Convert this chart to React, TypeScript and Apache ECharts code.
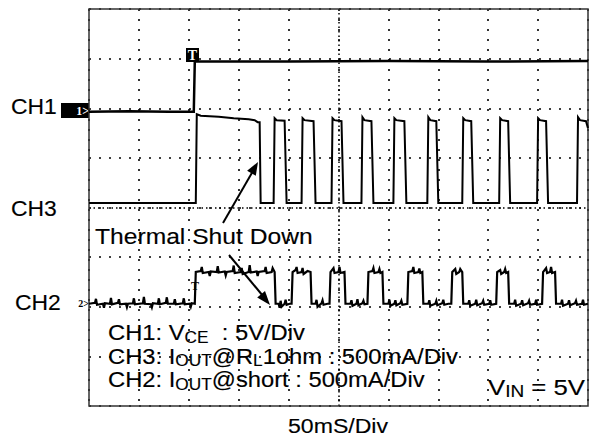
import React, { useEffect, useRef } from "react";
import * as echarts from "echarts";

// Horizontal: time in ms (50 mS/Div, 10 divisions). Vertical: screen divisions (0 = bottom, 8 = top).
const timeRange = [0, 500];
const timeStep = 50;
const divRange = [0, 8];

// CH1: VCE (5V/Div)
const ch1Vce: [number, number][] = [
  [0, 5.93], [40, 5.94], [80, 5.93], [105, 5.93], [106, 6.94], [200, 6.94], [300, 6.95], [400, 6.94], [500, 6.95],
];

// CH3: IOUT @ RL 1ohm (500mA/Div)
const ch3Iout: [number, number][] = [
  [0, 4.09], [107, 4.09], [108, 5.88], [112, 5.85], [130, 5.83], [145, 5.8], [160, 5.78], [166, 5.76], [169, 5.72], [171, 5.72], [172, 4.09],
  [185, 4.09], [186, 5.8], [188, 5.76], [196, 5.75], [198, 4.09],
  [213, 4.09], [214, 5.8], [216, 5.76], [225, 5.74], [227, 4.09],
  [243, 4.09], [244, 5.8], [246, 5.76], [253, 5.74], [255, 4.09],
  [273, 4.09], [274, 5.82], [276, 5.76], [283, 5.74], [285, 4.09],
  [305, 4.09], [306, 5.8], [308, 5.76], [316, 5.74], [318, 4.09],
  [339, 4.09], [340, 5.82], [342, 5.76], [348, 5.74], [350, 4.09],
  [374, 4.09], [375, 5.8], [377, 5.76], [383, 5.74], [385, 4.09],
  [411, 4.09], [412, 5.8], [414, 5.76], [420, 5.74], [422, 4.09],
  [449, 4.09], [450, 5.8], [452, 5.76], [458, 5.74], [460, 4.09],
  [489, 4.09], [490, 5.82], [492, 5.76], [498, 5.74], [500, 5.6],
];

// CH2: IOUT @ short (500mA/Div), with the visible noise spikes
const ch2Iout: [number, number][] = [
  [0, 2.06], [6, 2.08], [7, 2.16], [8, 2.04], [14, 2.06], [15, 1.98], [16, 2.07], [21, 2.06], [22, 2.18], [23, 2.05],
  [29, 2.08], [30, 2.15], [31, 2.05], [37, 2.06], [38, 1.99], [39, 2.06], [44, 2.07], [45, 2.17], [46, 2.05],
  [54, 2.07], [55, 2.2], [56, 2.06], [62, 2.05], [63, 1.99], [64, 2.07], [69, 2.06], [70, 2.17], [71, 2.05],
  [77, 2.08], [78, 2.19], [79, 2.06], [85, 2.06], [86, 2.15], [87, 2.05], [94, 2.07], [95, 2.17], [96, 2.05],
  [101, 2.06], [102, 2.0], [103, 2.07], [106, 2.06],
  [107, 2.7], [112, 2.72], [113, 2.8], [114, 2.68], [120, 2.7], [121, 2.62], [122, 2.71], [128, 2.7], [129, 2.82], [130, 2.69],
  [136, 2.71], [137, 2.63], [138, 2.7], [144, 2.72], [145, 2.83], [146, 2.68], [152, 2.7], [153, 2.78], [154, 2.66],
  [160, 2.7], [161, 2.84], [162, 2.69], [168, 2.71], [169, 2.62], [170, 2.7], [176, 2.72], [177, 2.8], [178, 2.68],
  [183, 2.7], [184, 2.78], [186, 2.7], [187, 2.06],
  [190, 2.06], [191, 1.98], [192, 2.12], [193, 2.0], [196, 2.06], [197, 2.14], [198, 2.04], [201, 2.06], [203, 2.06],
  [204, 2.7], [207, 2.74], [208, 2.8], [209, 2.68], [213, 2.7], [214, 2.78], [215, 2.66], [219, 2.72], [222, 2.7], [223, 2.06],
  [227, 2.06], [228, 2.14], [229, 2.0], [233, 2.07], [234, 2.13], [235, 2.04], [239, 2.06], [241, 2.06],
  [242, 2.7], [245, 2.78], [246, 2.68], [250, 2.7], [251, 2.8], [252, 2.68], [256, 2.7], [257, 2.06],
  [262, 2.06], [263, 2.13], [264, 2.02], [268, 2.06], [269, 2.15], [270, 2.03], [274, 2.07], [275, 2.12], [276, 2.05], [279, 2.06],
  [280, 2.7], [284, 2.72], [285, 2.78], [286, 2.68], [290, 2.7], [291, 2.76], [292, 2.68], [294, 2.7], [295, 2.06],
  [300, 2.06], [301, 2.14], [302, 2.02], [306, 2.06], [307, 2.13], [308, 2.03], [312, 2.07], [313, 2.12], [314, 2.04], [319, 2.06],
  [320, 2.7], [324, 2.72], [325, 2.8], [326, 2.68], [330, 2.7], [331, 2.77], [332, 2.68], [334, 2.7], [335, 2.06],
  [340, 2.06], [341, 2.13], [342, 2.02], [347, 2.06], [348, 2.12], [349, 2.03], [354, 2.07], [355, 2.14], [356, 2.04], [360, 2.06], [363, 2.06],
  [364, 2.7], [367, 2.76], [368, 2.66], [371, 2.7], [372, 2.76], [374, 2.7], [375, 2.06],
  [380, 2.06], [381, 2.13], [382, 2.02], [387, 2.06], [388, 2.14], [389, 2.03], [394, 2.07], [395, 2.12], [396, 2.04], [401, 2.06], [402, 2.13], [403, 2.04], [408, 2.06],
  [409, 2.7], [412, 2.74], [413, 2.66], [416, 2.7], [417, 2.76], [418, 2.68], [420, 2.7], [421, 2.06],
  [426, 2.06], [427, 2.14], [428, 2.02], [433, 2.06], [434, 2.13], [435, 2.03], [440, 2.07], [441, 2.12], [442, 2.04], [447, 2.06], [448, 2.14], [449, 2.04], [454, 2.06],
  [455, 2.7], [458, 2.78], [459, 2.68], [462, 2.7], [463, 2.8], [464, 2.68], [467, 2.7], [468, 2.06],
  [473, 2.06], [474, 2.14], [475, 2.02], [480, 2.06], [481, 2.13], [482, 2.03], [487, 2.07], [488, 2.12], [489, 2.04],
  [494, 2.06], [495, 2.14], [496, 2.04], [500, 2.06],
];

const channelLabels = ["CH1", "CH3", "CH2"];
const annotation = "Thermal Shut Down";
const legendLines = [
  "{m|CH1: V}{s|CE}{m|  : 5V/Div}",
  "{m|CH3: I}{s|OUT}{m|@R}{s|L}{m|1ohm : 500mA/Div}",
  "{m|CH2: I}{s|OUT}{m|@short : 500mA/Div}",
];
const vinLabel = "{m|V}{s|IN}{m| = 5V}";
const timebaseLabel = "50mS/Div";

const SANS = 'Arial, "Liberation Sans", Helvetica, sans-serif';
const SERIF = '"Liberation Serif", "Times New Roman", serif';
const TXT = { fill: "#000", stroke: "#000", lineWidth: 0.15 };

function richStyle(size: number, sub: number) {
  return {
    m: { fontSize: size, fontFamily: SANS, verticalAlign: "middle" },
    s: { fontSize: sub, fontFamily: SANS, padding: [10, 0, 0, 0], verticalAlign: "middle" },
  };
}

export default function App() {
  const ref = useRef<HTMLDivElement>(null);
  useEffect(() => {
    if (!ref.current) return;
    const chart = echarts.init(ref.current, undefined, { renderer: "svg" });
    const dotted = { color: "#000", width: 1.6, type: [2, 8] as number[] };
    const traceSeries = (name: string, data: [number, number][], width: number) => ({
      name,
      type: "line",
      data,
      showSymbol: false,
      symbol: "none",
      silent: true,
      lineStyle: { color: "#000", width, join: "miter" },
      z: 5,
    });
    const option: any = {
      animation: false,
      backgroundColor: "#fff",
      grid: { left: 89, top: 9, width: 499, height: 397, show: true, borderColor: "#333", borderWidth: 1.5, backgroundColor: "transparent", z: 3 },
      xAxis: {
        type: "value", min: timeRange[0], max: timeRange[1], interval: timeStep,
        axisLine: { show: false }, axisTick: { show: false }, axisLabel: { show: false },
        splitLine: { show: true, lineStyle: dotted },
      },
      yAxis: {
        type: "value", min: divRange[0], max: divRange[1], interval: 1,
        axisLine: { show: false }, axisTick: { show: false }, axisLabel: { show: false },
        splitLine: { show: true, lineStyle: dotted },
      },
      series: [
        {
          ...traceSeries("CH1", ch1Vce, 2.5),
          markLine: {
            silent: true, symbol: "none", label: { show: false },
            lineStyle: { color: "#000", width: 1.5, type: [1.5, 3] },
            data: [{ xAxis: (timeRange[0] + timeRange[1]) / 2 }, { yAxis: (divRange[0] + divRange[1]) / 2 }],
            z: 2,
          },
        },
        traceSeries("CH3", ch3Iout, 2),
        traceSeries("CH2", ch2Iout, 2.2),
      ],
      graphic: [
        // channel names
        { type: "text", x: 11, y: 107, scaleX: 1.04, style: { ...TXT, text: channelLabels[0], fontSize: 22, fontFamily: SANS, verticalAlign: "middle" } },
        { type: "text", x: 11, y: 209, scaleX: 1.04, style: { ...TXT, text: channelLabels[1], fontSize: 22, fontFamily: SANS, verticalAlign: "middle" } },
        { type: "text", x: 15, y: 303, scaleX: 1.04, style: { ...TXT, text: channelLabels[2], fontSize: 22, fontFamily: SANS, verticalAlign: "middle" } },
        // channel markers
        { type: "rect", shape: { x: 61, y: 103, width: 28, height: 15 }, style: { fill: "#000" } },
        { type: "text", x: 89, y: 111, style: { text: "1>", fontSize: 12, fontWeight: "bold", fontFamily: SERIF, fill: "#fff", align: "right", verticalAlign: "middle" } },
        { type: "text", x: 89, y: 303, style: { text: "2>", fontSize: 10, fontWeight: "bold", fontFamily: SERIF, fill: "#000", align: "right", verticalAlign: "middle" } },
        // trigger markers
        { type: "rect", shape: { x: 186, y: 48, width: 13, height: 14 }, style: { fill: "#000" }, z: 10 },
        { type: "text", x: 192.5, y: 55.5, z: 11, style: { text: "T", fontSize: 14, fontWeight: "bold", fontFamily: SERIF, fill: "#fff", align: "center", verticalAlign: "middle" } },
        { type: "text", x: 195, y: 286, z: 11, style: { text: "T", fontSize: 12, fontWeight: "bold", fontFamily: SERIF, fill: "#000", align: "center", verticalAlign: "middle" } },
        // annotation + arrows
        { type: "text", x: 95, y: 236, scaleX: 1.12, z: 11, style: { ...TXT, text: annotation, fontSize: 22, fontFamily: SANS, verticalAlign: "middle" } },
        { type: "line", z: 11, shape: { x1: 223, y1: 223, x2: 253, y2: 171 }, style: { stroke: "#000", lineWidth: 2 } },
        { type: "polygon", z: 11, shape: { points: [[258, 162], [255.8, 175.8], [247.1, 170.7]] }, style: { fill: "#000" } },
        { type: "line", z: 11, shape: { x1: 229, y1: 255, x2: 263, y2: 296 }, style: { stroke: "#000", lineWidth: 2 } },
        { type: "polygon", z: 11, shape: { points: [[270, 305], [265, 291], [257.2, 297.4]] }, style: { fill: "#000" } },
        // legend lines
        ...legendLines.map((t, i) => ({
          type: "text", x: 108, y: 332.5 + i * 23.5, scaleX: 1.08, z: 11,
          style: { ...TXT, text: t, verticalAlign: "middle", rich: richStyle(22, 16) },
        })),
        { type: "text", x: 488, y: 386.5, scaleX: 1.12, z: 11, style: { ...TXT, text: vinLabel, verticalAlign: "middle", rich: richStyle(23, 17) } },
        { type: "text", x: 338, y: 425.5, scaleX: 1.1, style: { ...TXT, text: timebaseLabel, fontSize: 21, fontFamily: SANS, align: "center", verticalAlign: "middle" } },
      ],
    };
    chart.setOption(option);
    return () => chart.dispose();
  }, []);
  return <div ref={ref} style={{ position: "fixed", left: 0, top: 0, width: 593, height: 439, background: "#fff" }} />;
}
